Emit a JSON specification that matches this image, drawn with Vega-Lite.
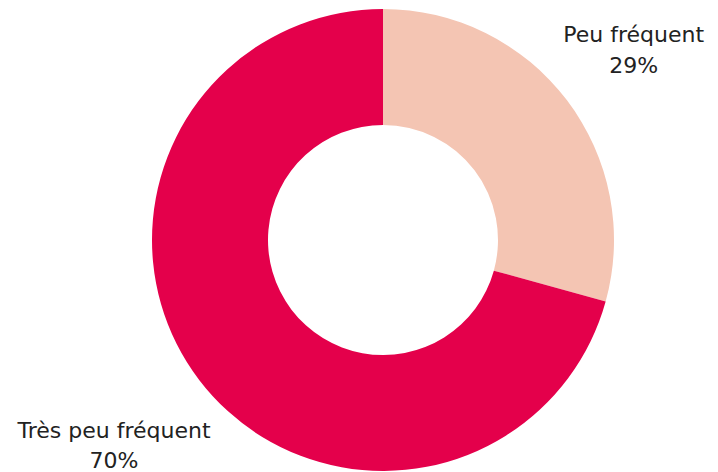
{
  "$schema": "https://vega.github.io/schema/vega-lite/v6.json",
  "autosize": {"type": "none"},
  "width": 670,
  "height": 464,
  "padding": {"left": 48, "right": 0, "top": 8, "bottom": 0},
  "background": "white",
  "data": {"values": [
    {"category": "Peu fréquent", "value": 29, "order": 1},
    {"category": "Très peu fréquent", "value": 70, "order": 2}
  ]},
  "transform": [{"calculate": "datum.value + '%'", "as": "pct"}],
  "encoding": {
    "theta": {"field": "value", "type": "quantitative", "stack": true},
    "order": {"field": "order", "type": "ordinal"},
    "color": {"field": "category", "type": "nominal", "legend": null,
      "scale": {"domain": ["Peu fréquent", "Très peu fréquent"], "range": ["#F4C5B3", "#E4004B"]}}
  },
  "view": {"stroke": null},
  "layer": [
    {"mark": {"type": "arc", "outerRadius": 231, "innerRadius": 115}},
    {"mark": {"type": "text", "radius": 315, "dy": -14, "font": "DejaVu Sans", "fontSize": 22, "align": "center", "baseline": "middle"},
     "encoding": {"text": {"condition": {"test": "datum.order == 1", "field": "category"}, "value": ""}, "color": {"value": "#222222"}}},
    {"mark": {"type": "text", "radius": 315, "dy": 17, "font": "DejaVu Sans", "fontSize": 22, "align": "center", "baseline": "middle"},
     "encoding": {"text": {"condition": {"test": "datum.order == 1", "field": "pct"}, "value": ""}, "color": {"value": "#222222"}}},
    {"mark": {"type": "text", "radius": 338, "dy": -14, "font": "DejaVu Sans", "fontSize": 22, "align": "center", "baseline": "middle"},
     "encoding": {"text": {"condition": {"test": "datum.order == 2", "field": "category"}, "value": ""}, "color": {"value": "#222222"}}},
    {"mark": {"type": "text", "radius": 338, "dy": 16, "font": "DejaVu Sans", "fontSize": 22, "align": "center", "baseline": "middle"},
     "encoding": {"text": {"condition": {"test": "datum.order == 2", "field": "pct"}, "value": ""}, "color": {"value": "#222222"}}}
  ]
}
